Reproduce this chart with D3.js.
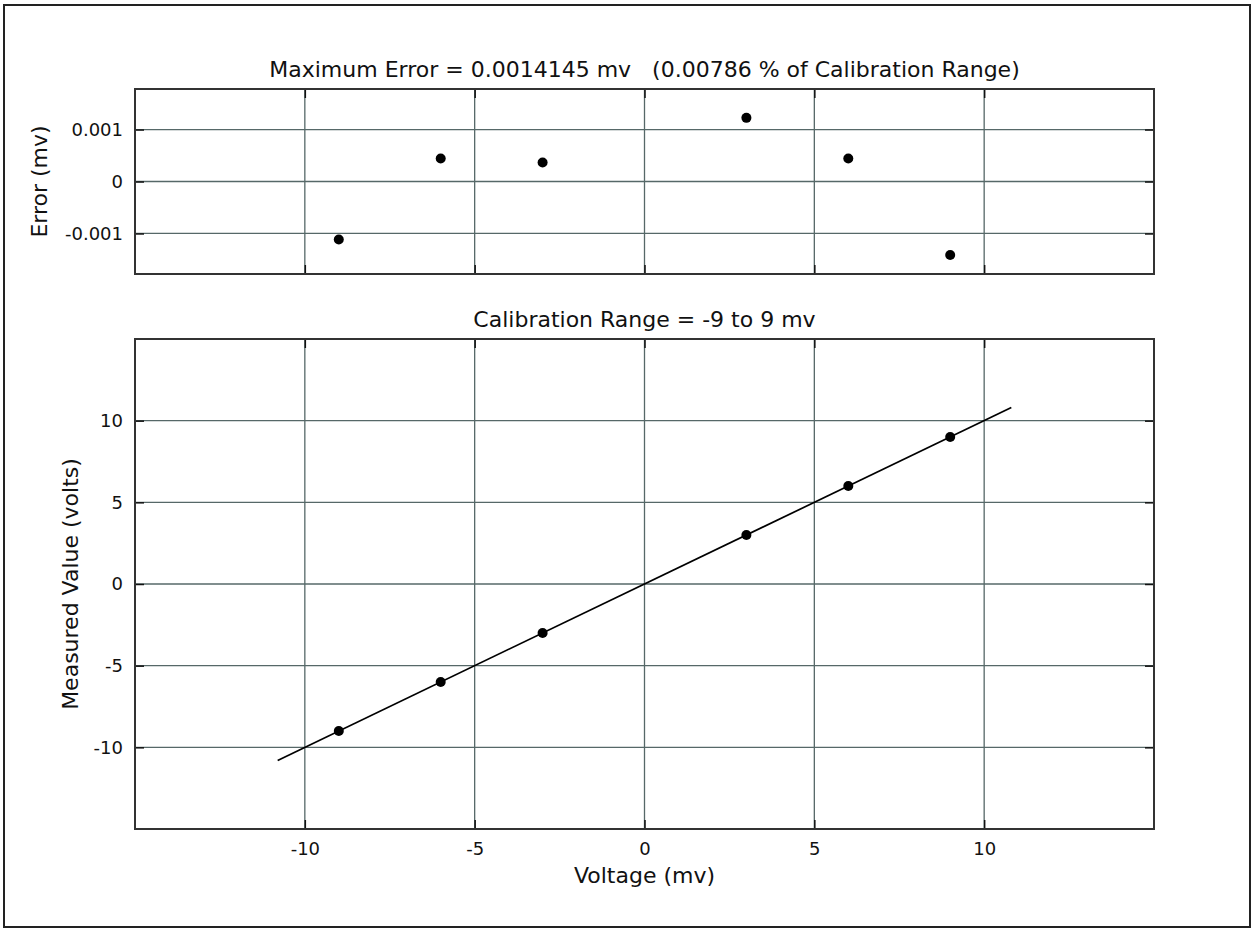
<!DOCTYPE html>
<html>
<head>
<meta charset="utf-8">
<script src="https://cdn.jsdelivr.net/npm/d3@7"></script>
<style>
  body { margin: 0; background: #fff; }
  text { font-family: "DejaVu Sans", sans-serif; fill: #111; }
</style>
</head>
<body>
<div id="chart"></div>
<script>
// calibration points (mv)
var voltage = [-9, -6, -3, 3, 6, 9];
// error of each point (mv)
var errors = [-0.001115, 0.000442, 0.000366, 0.001225, 0.000444, -0.0014145];
// measured value at each point (volts)
var measured = [-9.001115, -5.999558, -2.999634, 3.001225, 6.000444, 8.9985855];
// ends of the fitted line
var fitX = [-10.8, 10.8];
var fitY = [-10.8, 10.8];

var xTicks = [-10, -5, 0, 5, 10];
var errTicks = [-0.001, 0, 0.001];
var valTicks = [-10, -5, 0, 5, 10];

var topTitle = "Maximum Error = 0.0014145 mv   (0.00786 % of Calibration Range)";
var bottomTitle = "Calibration Range = -9 to 9 mv";

var W = 1252, H = 929;
var left = 135, right = 1154;
var gridColor = "#566868";

var svg = d3.select("#chart")
  .append("svg")
  .attr("width", W)
  .attr("height", H);

svg.append("rect")
  .attr("x", 4).attr("y", 5)
  .attr("width", 1246).attr("height", 922)
  .attr("fill", "#fff")
  .attr("stroke", "#222")
  .attr("stroke-width", 2);

var x = d3.scaleLinear().domain([-15, 15]).range([left, right]);

function drawPanel(top, bottom, y, yTicks, yFmt, title, yLabel, labelX, showX) {
  var g = svg.append("g");

  // grid
  g.append("g").selectAll("line")
    .data(xTicks)
    .join("line")
    .attr("x1", d => x(d)).attr("x2", d => x(d))
    .attr("y1", top).attr("y2", bottom)
    .attr("stroke", gridColor)
    .attr("stroke-width", 1.3);
  g.append("g").selectAll("line")
    .data(yTicks)
    .join("line")
    .attr("x1", left).attr("x2", right)
    .attr("y1", d => y(d)).attr("y2", d => y(d))
    .attr("stroke", gridColor)
    .attr("stroke-width", 1.3);

  // axes with inner ticks
  var axL = g.append("g")
    .attr("transform", "translate(" + left + ",0)")
    .call(d3.axisLeft(y).tickValues(yTicks).tickFormat(yFmt).tickSizeInner(-9).tickSizeOuter(0).tickPadding(12));
  var axR = g.append("g")
    .attr("transform", "translate(" + right + ",0)")
    .call(d3.axisRight(y).tickValues(yTicks).tickFormat("").tickSizeInner(-9).tickSizeOuter(0));
  var axB = g.append("g")
    .attr("transform", "translate(0," + bottom + ")")
    .call(d3.axisBottom(x).tickValues(xTicks).tickFormat(showX ? d3.format("d") : "").tickSizeInner(-9).tickSizeOuter(0).tickPadding(13));
  var axT = g.append("g")
    .attr("transform", "translate(0," + top + ")")
    .call(d3.axisTop(x).tickValues(xTicks).tickFormat("").tickSizeInner(-9).tickSizeOuter(0));

  [axL, axR, axB, axT].forEach(function(a) {
    a.select(".domain").remove();
    a.selectAll(".tick line").attr("stroke", "#111").attr("stroke-width", 1.5);
    a.selectAll(".tick text")
      .style("font-family", "DejaVu Sans")
      .style("font-size", "18px")
      .attr("fill", "#111");
  });
  axL.selectAll(".tick text").text(function(d) { return yFmt(d).replace("\u2212", "-"); });
  axB.selectAll(".tick text").text(function(d) { return showX ? String(d) : ""; });

  // frame
  g.append("rect")
    .attr("x", left).attr("y", top)
    .attr("width", right - left).attr("height", bottom - top)
    .attr("fill", "none")
    .attr("stroke", "#333")
    .attr("stroke-width", 2);

  g.append("text")
    .attr("x", (left + right) / 2)
    .attr("y", top - 12)
    .attr("text-anchor", "middle")
    .style("font-size", "22px")
    .style("white-space", "pre")
    .attr("xml:space", "preserve")
    .text(title);

  g.append("text")
    .attr("transform", "translate(" + labelX + "," + ((top + bottom) / 2) + ") rotate(-90)")
    .attr("text-anchor", "middle")
    .style("font-size", "22px")
    .text(yLabel);

  return g;
}

// top panel: error
var yErr = d3.scaleLinear().domain([-0.00178, 0.00178]).range([274, 89]);
var gTop = drawPanel(89, 274, yErr, errTicks, function(d) { return d === 0 ? "0" : String(d); },
  topTitle, "Error (mv)", 47, false);

gTop.append("g").selectAll("circle")
  .data(voltage)
  .join("circle")
  .attr("cx", d => x(d))
  .attr("cy", (d, i) => yErr(errors[i]))
  .attr("r", 5)
  .attr("fill", "#000");

// bottom panel: measured value
var yVal = d3.scaleLinear().domain([-15, 15]).range([829, 339]);
var gBot = drawPanel(339, 829, yVal, valTicks, function(d) { return String(d); },
  bottomTitle, "Measured Value (volts)", 78, true);

gBot.append("path")
  .datum(fitX)
  .attr("fill", "none")
  .attr("stroke", "#000")
  .attr("stroke-width", 1.7)
  .attr("d", d3.line()
    .x(d => x(d))
    .y((d, i) => yVal(fitY[i])));

gBot.append("g").selectAll("circle")
  .data(voltage)
  .join("circle")
  .attr("cx", d => x(d))
  .attr("cy", (d, i) => yVal(measured[i]))
  .attr("r", 5)
  .attr("fill", "#000");

svg.append("text")
  .attr("x", (left + right) / 2)
  .attr("y", 883)
  .attr("text-anchor", "middle")
  .style("font-size", "22px")
  .text("Voltage (mv)");
</script>
</body>
</html>
